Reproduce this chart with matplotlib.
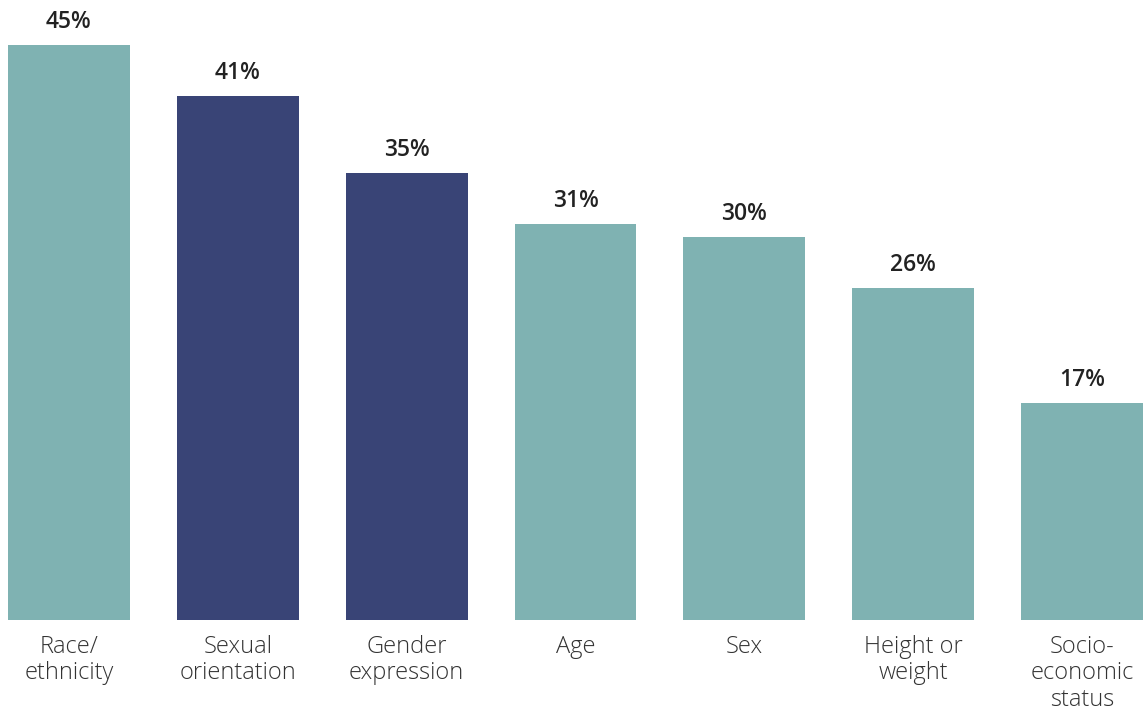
import matplotlib
matplotlib.use("Agg")
import matplotlib.pyplot as plt

categories = ["Race/\nethnicity", "Sexual\norientation", "Gender\nexpression", "Age", "Sex",
              "Height or\nweight", "Socio-\neconomic\nstatus"]
values = [45, 41, 35, 31, 30, 26, 17]
highlight = [False, True, True, False, False, False, False]

TEAL = "#7fb2b2"
NAVY = "#394476"

plt.rcParams['font.family'] = ['Open Sans', 'DejaVu Sans']

fig = plt.figure(figsize=(11.43, 7.10), dpi=100)
ax = fig.add_axes([8/1143, 90/710, 1135/1143, 575/710])
x = list(range(len(values)))
colors = [NAVY if h else TEAL for h in highlight]
ax.bar(x, values, width=0.722, color=colors)
ax.set_xlim(-0.361, len(values) - 1 + 0.361)
ax.set_ylim(0, 45)
for xi, v in zip(x, values):
    ax.annotate(f"{v}%", (xi, v), xytext=(0, 8), textcoords="offset points",
                ha="center", va="bottom", fontsize=16.5, fontweight="semibold",
                color="#222222", annotation_clip=False)
ax.set_xticks(x)
ax.set_xticklabels(categories, fontsize=17, color="#333333", linespacing=1.12,
                   fontweight="light")
ax.tick_params(axis="x", length=0, pad=11)
ax.set_yticks([])
for s in ax.spines.values():
    s.set_visible(False)
fig.savefig("out.png", dpi=100)
